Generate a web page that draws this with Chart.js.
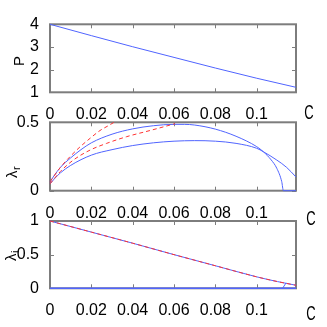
<!DOCTYPE html>
<html>
<head>
<meta charset="utf-8">
<script src="https://cdn.jsdelivr.net/npm/chart.js@4"></script>
<style>
  html, body { margin: 0; padding: 0; background: #fff; }
  #wrap { position: relative; width: 327px; height: 327px; }
  canvas { position: absolute; left: 0; top: 0; }
</style>
</head>
<body>
<div id="wrap">
  <canvas id="p1" width="327" height="327"></canvas>
  <canvas id="p2" width="327" height="327"></canvas>
  <canvas id="p3" width="327" height="327"></canvas>
</div>
<script>
// shared x axis
const C_MAX = 0.119;
const X_TICKS = [0, 0.02, 0.04, 0.06, 0.08, 0.1];
const X_LABELS = ["0", "0.02", "0.04", "0.06", "0.08", "0.1"];

// panel 1: P
const P_C = [0, 0.02, 0.04, 0.06, 0.08, 0.1, 0.119];
const P_VAL = [4, 3.5, 3.01, 2.54, 2.07, 1.62, 1.22];
const P_TICKS = [1, 2, 3, 4];
const P_LABELS = ["1", "2", "3", "4"];

// panel 2: lambda_r
const LR1_C = [0, 0.002, 0.005, 0.01, 0.015, 0.02, 0.03, 0.04, 0.05, 0.06, 0.065, 0.07, 0.08, 0.09, 0.1, 0.1032, 0.107, 0.1097, 0.1121, 0.1129, 0.119];
const LR1 = [0.065, 0.11, 0.17, 0.24, 0.3, 0.35, 0.413, 0.452, 0.475, 0.485, 0.485, 0.48, 0.45, 0.398, 0.322, 0.285, 0.225, 0.164, 0.066, 0, 0];
const LR2_C = [0, 0.002, 0.005, 0.01, 0.02, 0.03, 0.04, 0.05, 0.06, 0.07, 0.08, 0.09, 0.1, 0.1032, 0.1097, 0.1145, 0.119];
const LR2 = [0.05, 0.085, 0.13, 0.185, 0.26, 0.3, 0.33, 0.35, 0.362, 0.366, 0.362, 0.346, 0.31, 0.285, 0.224, 0.17, 0.1];
const LR1_APPROX_C = [0, 0.005, 0.0097, 0.0145, 0.0194, 0.0242, 0.0282, 0.031];
const LR1_APPROX = [0.065, 0.17, 0.249, 0.32, 0.383, 0.44, 0.475, 0.5];
const LR2_APPROX_C = [0, 0.005, 0.0113, 0.0194, 0.0274, 0.0371, 0.0484, 0.0605];
const LR2_APPROX = [0.05, 0.14, 0.224, 0.297, 0.346, 0.395, 0.44, 0.49];
const LR_TICKS = [0, 0.5];
const LR_LABELS = ["0", "0.5"];

// panel 3: lambda_i
const LI_C = [0, 0.02, 0.04, 0.06, 0.08, 0.1, 0.11, 0.119];
const LI = [1, 0.835, 0.67, 0.5, 0.335, 0.17, 0.1, 0.045];
const LI_APPROX = [1, 0.835, 0.67, 0.5, 0.335, 0.17, 0.1, 0.045];
const LI_ZERO_C = [0, 0.119];
const LI_ZERO = [0, 0];
const LI_BRANCH_C = [0.1125, 0.1142];
const LI_BRANCH = [0, 0.08];
const LI_TICKS = [0, 0.5, 1];
const LI_LABELS = ["0", "0.5", "1"];

const BLUE = "rgb(80,100,255)";
const RED = "rgb(255,50,50)";
const FRAME = "rgb(125,125,125)";
const FONT = { family: "Liberation Sans, Arial, sans-serif", size: 16 };

const pts = (xs, ys) => xs.map((x, i) => ({ x: x, y: ys[i] }));
const solid = (xs, ys, w) => ({ data: pts(xs, ys), borderColor: BLUE, borderWidth: w || 1, cubicInterpolationMode: "monotone", clip: 2 });
const dashed = (xs, ys) => ({ data: pts(xs, ys), borderColor: RED, borderWidth: 1, borderDash: [4, 3], cubicInterpolationMode: "monotone", clip: 2 });

const framePlugin = {
  id: "frame",
  beforeDatasetsDraw(chart, args, o) {
    const { ctx, chartArea: a, scales } = chart;
    ctx.save();
    ctx.strokeStyle = FRAME;
    ctx.lineWidth = 1;
    ctx.beginPath();
    scales.x.ticks.forEach(t => {
      const px = Math.round(scales.x.getPixelForValue(t.value)) + 0.5;
      ctx.moveTo(px, a.bottom); ctx.lineTo(px, a.bottom - 4);
      ctx.moveTo(px, a.top); ctx.lineTo(px, a.top + 4);
    });
    scales.y.ticks.forEach(t => {
      const py = Math.round(scales.y.getPixelForValue(t.value)) + 0.5;
      ctx.moveTo(a.left, py); ctx.lineTo(a.left + 4, py);
      ctx.moveTo(a.right, py); ctx.lineTo(a.right - 4, py);
    });
    ctx.stroke();
    ctx.lineWidth = 2;
    ctx.strokeRect(a.left, a.top, a.right - a.left, a.bottom - a.top);
    ctx.restore();
  },
  afterDraw(chart, args, o) {
    const ctx = chart.ctx;
    ctx.save();
    ctx.fillStyle = "#000";

    // x label "C" off to the right
    ctx.save();
    ctx.translate(o.cx, o.cy);
    ctx.scale(0.65, 1);
    ctx.font = "20px Liberation Sans, Arial, sans-serif";
    ctx.textAlign = "center";
    ctx.textBaseline = "middle";
    ctx.fillText("C", 0, 0);
    ctx.restore();

    // rotated y label with optional subscript
    ctx.save();
    ctx.translate(o.tx, o.ty);
    ctx.rotate(-Math.PI / 2);
    ctx.textAlign = "left";
    ctx.textBaseline = "alphabetic";
    ctx.font = "15px Liberation Sans, Arial, sans-serif";
    ctx.fillText(o.main, 0, 0);
    const w = ctx.measureText(o.main).width;
    if (o.sub) {
      ctx.font = "11px Liberation Sans, Arial, sans-serif";
      ctx.fillText(o.sub, w + 0.5, 3);
    }
    ctx.restore();
    ctx.restore();
  }
};

function panel(id, top, bottom, yMin, yMax, yTicks, yLabels, datasets, lab) {
  return new Chart(document.getElementById(id), {
    type: "line",
    data: { datasets: datasets },
    options: {
      responsive: false,
      animation: false,
      devicePixelRatio: 1,
      layout: { padding: { top: top, right: 31, left: 0, bottom: 0 } },
      elements: { point: { radius: 0 }, line: { fill: false } },
      plugins: { legend: { display: false }, tooltip: { enabled: false }, frame: lab },
      scales: {
        x: {
          type: "linear", min: 0, max: C_MAX,
          afterFit: s => { s.height = 327 - bottom; },
          afterBuildTicks: s => { s.ticks = X_TICKS.map(v => ({ value: v })); },
          ticks: { callback: (v, i) => X_LABELS[i], padding: 5, maxRotation: 0, autoSkip: false, font: FONT, color: "#000" },
          grid: { display: false },
          border: { display: false }
        },
        y: {
          type: "linear", min: yMin, max: yMax,
          afterFit: s => { s.width = 50; },
          afterBuildTicks: s => { s.ticks = yTicks.map(v => ({ value: v })); },
          ticks: { callback: (v, i) => yLabels[i], padding: 3, autoSkip: false, font: FONT, color: "#000" },
          grid: { display: false },
          border: { display: false }
        }
      }
    },
    plugins: [framePlugin]
  });
}

panel("p1", 24.3, 92.3, 1, 4, P_TICKS, P_LABELS,
  [solid(P_C, P_VAL)],
  { cx: 309, cy: 113, tx: 24, ty: 66, main: "P", sub: "" });

panel("p2", 122.3, 190.7, 0, 0.5, LR_TICKS, LR_LABELS,
  [dashed(LR1_APPROX_C, LR1_APPROX), dashed(LR2_APPROX_C, LR2_APPROX),
   solid(LR1_C, LR1), solid(LR2_C, LR2)],
  { cx: 311, cy: 219, tx: 17, ty: 178, main: "λ", sub: "r" });

panel("p3", 221, 288.3, 0, 1, LI_TICKS, LI_LABELS,
  [dashed(LI_C, LI_APPROX), solid(LI_C, LI), solid(LI_ZERO_C, LI_ZERO, 1.6), solid(LI_BRANCH_C, LI_BRANCH)],
  { cx: 311, cy: 314, tx: 16, ty: 261, main: "λ", sub: "i" });
</script>
</body>
</html>
